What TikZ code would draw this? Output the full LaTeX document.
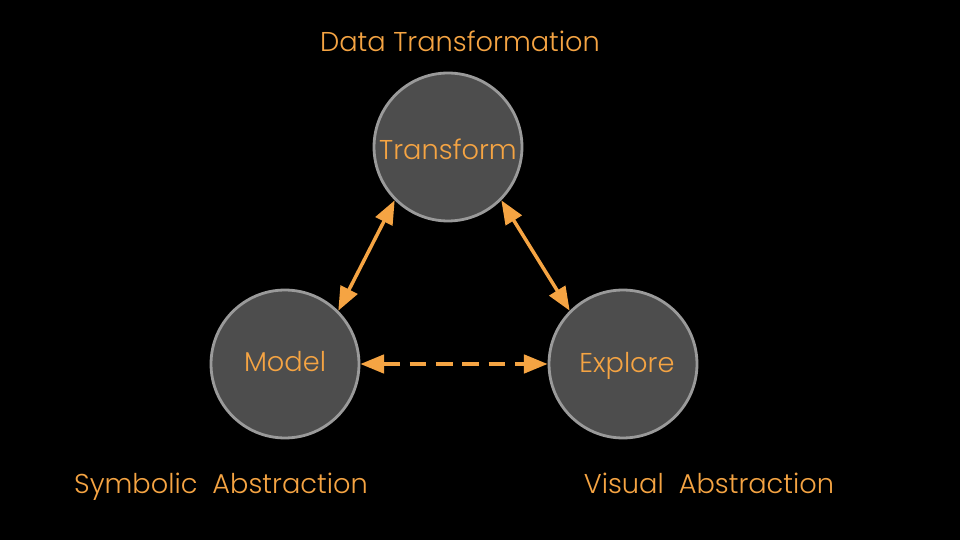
\documentclass[tikz,border=0pt]{standalone}
\usepackage{fontspec}
\setmainfont{Poppins}[UprightFont=* Light]
\usetikzlibrary{arrows.meta}
\definecolor{mOrange}{HTML}{F5A443}
\definecolor{mFill}{HTML}{4D4D4D}
\definecolor{mEdge}{HTML}{9A9A9A}

\begin{document}
\begin{tikzpicture}[x=0.02cm, y=-0.02cm,
      stage/.style={circle, draw=mEdge, line width=1.6pt, fill=mFill,
        minimum size=2.96cm, inner sep=0pt, text=mOrange, text height=11pt, text depth=3pt,
        font=\fontsize{15.5}{18}\selectfont},
      lbl/.style={text=mOrange, text height=11pt, text depth=3pt, font=\fontsize{15.5}{18}\selectfont},
      link/.style={mOrange, line width=2pt, {Triangle[length=13.5pt, width=10.5pt]}-{Triangle[length=13.5pt, width=10.5pt]}}]
    \fill[black] (0,0) rectangle (960,540);
    \useasboundingbox (0,0) rectangle (960,540);
    \node[stage] (transform) at (448,147) {\raisebox{-3pt}{Transform}};
    \node[stage] (model) at (285,364) {Model};
    \node[stage] (explore) at (623,364) {\hspace*{4.5pt}\raisebox{-1pt}{Explore}};
    \node[lbl] (datalbl) at (460,44) {Data Transformation};
    \node[lbl] (symlbl) at (221,486) {Symbolic\ \ Abstraction};
    \node[lbl] (vislbl) at (709,486) {Visual\ \ Abstraction};
    \draw[link] (transform.225) -- (model.45);
    \draw[link] (transform.315) -- (explore.135);
    \draw[link, dash pattern=on 9.5pt off 5.5pt] (model) -- (explore);
  \end{tikzpicture}
\end{document}
